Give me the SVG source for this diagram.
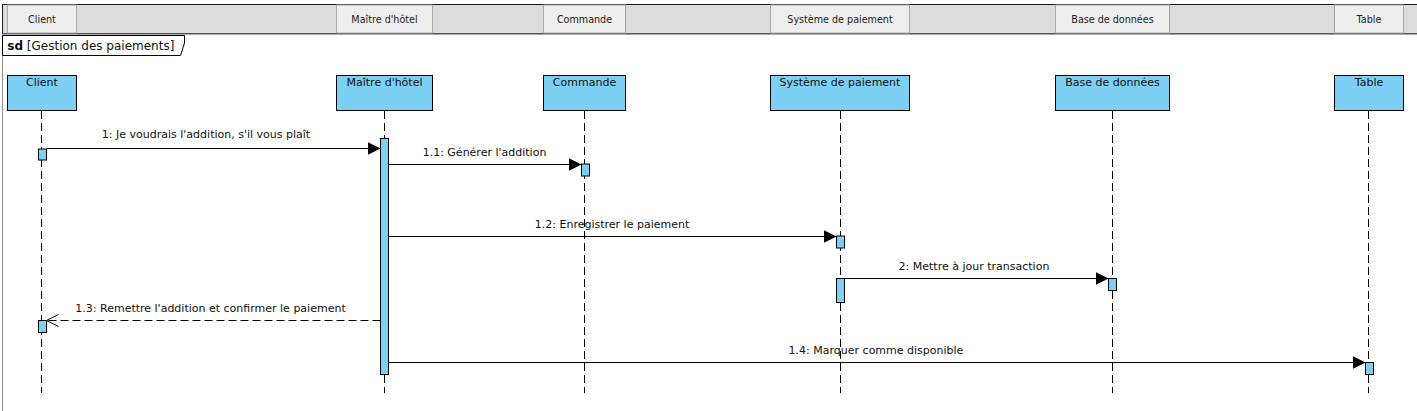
<svg xmlns="http://www.w3.org/2000/svg" width="1417" height="411" viewBox="0 0 1417 411">
<style>
text{font-family:"DejaVu Sans","Liberation Sans",sans-serif;fill:#111}
.hdr{font-size:9.6px;text-anchor:middle;fill:#222}
.cell{fill:#eeeeee;stroke:#a8a8a8;stroke-width:1}
.box{fill:#7dcff4;stroke:#000;stroke-width:1}
.lbl{font-size:11px;text-anchor:middle}
.life{stroke:#000;stroke-width:1;stroke-dasharray:8,4;fill:none}
.act{fill:#7dcff4;stroke:#000;stroke-width:1}
.msg{stroke:#000;stroke-width:1;fill:none}
.ret{stroke:#000;stroke-width:1;fill:none;stroke-dasharray:8,4}
.mlbl{font-size:11px;text-anchor:middle}
</style>
<defs>
<marker id="filled" markerUnits="userSpaceOnUse" viewBox="0 0 13 13" refX="13" refY="6.5" markerWidth="13" markerHeight="13" orient="auto">
<path d="M0,0 L13,6.5 L0,13 z" fill="#000" stroke="none"/>
</marker>
<marker id="open" markerUnits="userSpaceOnUse" viewBox="-1 -1 14 14" refX="12" refY="6" markerWidth="14" markerHeight="14" orient="auto">
<path d="M0,0 L12,6 L0,12" fill="none" stroke="#000" stroke-width="1"/>
</marker>
</defs>
<rect x="0" y="0" width="1417" height="411" fill="#fff"/>
<g id="header">
<rect x="2" y="4" width="1415" height="29.5" fill="#dcdcdc"/>
<line x1="2" y1="4.5" x2="1417" y2="4.5" stroke="#1a1a1a"/>
<line x1="2.5" y1="4" x2="2.5" y2="34" stroke="#1a1a1a"/>
<line x1="2" y1="33.5" x2="1417" y2="33.5" stroke="#555"/>
<line x1="2" y1="34.5" x2="1417" y2="34.5" stroke="#a8a8a8"/>
<rect class="cell" x="7.5" y="5" width="69" height="28"/>
<text class="hdr" x="42" y="23">Client</text>
<rect class="cell" x="336.5" y="5" width="96" height="28"/>
<text class="hdr" x="384.5" y="23">Maître d'hôtel</text>
<rect class="cell" x="543.5" y="5" width="82" height="28"/>
<text class="hdr" x="584.5" y="23">Commande</text>
<rect class="cell" x="770.5" y="5" width="139" height="28"/>
<text class="hdr" x="840" y="23">Système de paiement</text>
<rect class="cell" x="1055.5" y="5" width="114" height="28"/>
<text class="hdr" x="1112.5" y="23">Base de données</text>
<rect class="cell" x="1334.5" y="5" width="69" height="28"/>
<text class="hdr" x="1369" y="23">Table</text>
</g>
<g id="frame">
<line x1="2.5" y1="34" x2="2.5" y2="411" stroke="#8c8c8c"/>
<path d="M2.5,35.5 L184.5,35.5 L184.5,43 L180.5,55.5 L2.5,55.5 z" fill="#fff" stroke="#000"/>
<text x="7.3" y="50" style="font-size:12px"><tspan font-weight="bold">sd</tspan> [Gestion des paiements]</text>
</g>
<g id="client">
<rect class="box" x="7.5" y="75.5" width="69" height="35"/>
<text class="lbl" x="42" y="86">Client</text>
<line class="life" x1="41.5" y1="111" x2="41.5" y2="393"/>
</g>
<g id="maitre">
<rect class="box" x="336.5" y="75.5" width="96" height="35"/>
<text class="lbl" x="384.5" y="86">Maître d'hôtel</text>
<line class="life" x1="384.5" y1="111" x2="384.5" y2="393"/>
</g>
<g id="commande">
<rect class="box" x="543.5" y="75.5" width="82" height="35"/>
<text class="lbl" x="584.5" y="86">Commande</text>
<line class="life" x1="584.5" y1="111" x2="584.5" y2="393"/>
</g>
<g id="systeme">
<rect class="box" x="770.5" y="75.5" width="139" height="35"/>
<text class="lbl" x="840" y="86">Système de paiement</text>
<line class="life" x1="840.5" y1="111" x2="840.5" y2="393"/>
</g>
<g id="base">
<rect class="box" x="1055.5" y="75.5" width="114" height="35"/>
<text class="lbl" x="1112.5" y="86">Base de données</text>
<line class="life" x1="1112.5" y1="111" x2="1112.5" y2="393"/>
</g>
<g id="table">
<rect class="box" x="1334.5" y="75.5" width="69" height="35"/>
<text class="lbl" x="1369" y="86">Table</text>
<line class="life" x1="1368.5" y1="111" x2="1368.5" y2="393"/>
</g>
<g id="activations">
<rect class="act" x="38.5" y="149" width="8" height="11"/>
<rect class="act" x="380.5" y="138.5" width="8" height="236"/>
<rect class="act" x="581.5" y="164" width="8" height="12"/>
<rect class="act" x="836.5" y="236" width="8" height="12"/>
<rect class="act" x="836.5" y="278.5" width="8" height="24"/>
<rect class="act" x="1108.5" y="278.5" width="8" height="12"/>
<rect class="act" x="38.5" y="320.5" width="8" height="12"/>
<rect class="act" x="1365.5" y="362.5" width="8" height="12"/>
</g>
<g id="connectors">
<line class="msg" x1="46.5" y1="148.5" x2="380.5" y2="148.5" marker-end="url(#filled)"/>
<text class="mlbl" x="206" y="137.5">1: Je voudrais l'addition, s'il vous plaît</text>
<line class="msg" x1="388.5" y1="164.5" x2="581.5" y2="164.5" marker-end="url(#filled)"/>
<text class="mlbl" x="484.5" y="156">1.1: Générer l'addition</text>
<line class="msg" x1="388.5" y1="236.5" x2="836.5" y2="236.5" marker-end="url(#filled)"/>
<text class="mlbl" x="612" y="228">1.2: Enregistrer le paiement</text>
<line class="msg" x1="844.5" y1="278.5" x2="1108.5" y2="278.5" marker-end="url(#filled)"/>
<text class="mlbl" x="974" y="270">2: Mettre à jour transaction</text>
<line class="ret" x1="380.5" y1="320.5" x2="46.5" y2="320.5" marker-end="url(#open)"/>
<text class="mlbl" x="210.5" y="312">1.3: Remettre l'addition et confirmer le paiement</text>
<line class="msg" x1="388.5" y1="362.5" x2="1365.5" y2="362.5" marker-end="url(#filled)"/>
<text class="mlbl" x="876" y="354">1.4: Marquer comme disponible</text>
</g>
</svg>
